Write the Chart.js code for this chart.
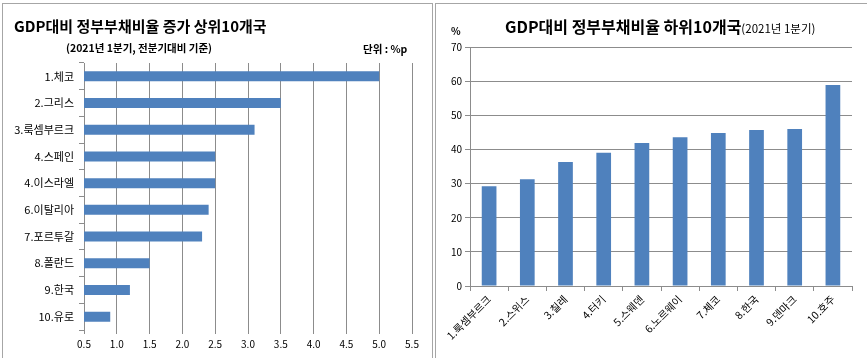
<!DOCTYPE html>
<html>
<head>
<meta charset="utf-8">
<script src="https://cdn.jsdelivr.net/npm/chart.js@4.4.1/dist/chart.umd.min.js"></script>
<style>
    body { margin:0; width:867px; height:358px; background:#fff; position:relative; overflow:hidden;
        font-family:"Noto Sans CJK KR", "Noto Sans", sans-serif; }
    .box { position:absolute; top:3px; height:360px; border:1px solid #a6a6a6; border-bottom:none; background:#fff; }
    #leftBox { left:2px; width:429px; }
    #rightBox { left:435px; width:440px; }
    .txt { position:absolute; white-space:nowrap; color:#000; }
    canvas { position:absolute; left:0; top:0; }
</style>
</head>
<body>
<div class="box" id="leftBox">
    <canvas id="leftChart" width="429" height="352"></canvas>
    <div class="txt" style="left:11px; top:11px; font-size:15px; font-weight:bold;">GDP대비 정부부채비율 증가 상위10개국</div>
    <div class="txt" style="left:63px; top:36px; font-size:10.5px; font-weight:bold;">(2021년 1분기, 전분기대비 기준)</div>
    <div class="txt" style="left:360px; top:37px; font-size:10.5px; font-weight:bold;">단위 : %p</div>
</div>
<div class="box" id="rightBox">
    <canvas id="rightChart" width="432" height="352"></canvas>
    <div class="txt" style="left:69px; top:10px; font-size:16px; font-weight:bold;">GDP대비 정부부채비율 하위10개국<span style="font-size:11.5px; font-weight:normal;">(2021년 1분기)</span></div>
    <div class="txt" style="left:15px; top:19px; font-size:10px; font-weight:bold;">%</div>
</div>

<script>
// left chart data (%p increase)
const topCountries = ['1.체코', '2.그리스', '3.룩셈부르크', '4.스페인', '4.이스라엘', '6.이탈리아', '7.포르투갈', '8.폴란드', '9.한국', '10.유로'];
const topValues = [5.0, 3.5, 3.1, 2.5, 2.5, 2.4, 2.3, 1.5, 1.2, 0.9];
const topTicks = [0.5, 1.0, 1.5, 2.0, 2.5, 3.0, 3.5, 4.0, 4.5, 5.0, 5.5];

// right chart data (debt ratio %)
const lowCountries = ['1.룩셈부르크', '2.스위스', '3.칠레', '4.터키', '5.스웨덴', '6.노르웨이', '7.체코', '8.한국', '9.덴마크', '10.호주'];
const lowValues = [29.2, 31.3, 36.3, 39.0, 41.9, 43.6, 44.8, 45.7, 46.0, 58.9];
const lowTicks = [0, 10, 20, 30, 40, 50, 60, 70];

const barColor = '#4f81bd';
const gridColor = '#8c8c8c';
const fontFamily = '"Noto Sans CJK KR", "Noto Sans", sans-serif';

Chart.defaults.color = '#000';
Chart.defaults.font.family = fontFamily;

const leftChart = new Chart(document.getElementById('leftChart').getContext('2d'), {
    type: 'bar',
    data: {
        labels: topCountries,
        datasets: [{
            data: topValues,
            backgroundColor: barColor,
            barPercentage: 0.75,
            categoryPercentage: 0.5
        }]
    },
    options: {
        indexAxis: 'y',
        responsive: false,
        animation: false,
        layout: { padding: { top: 59, right: 20, left: 0, bottom: 0 } },
        plugins: { legend: { display: false }, tooltip: { enabled: false } },
        scales: {
            x: {
                type: 'linear',
                min: topTicks[0],
                max: topTicks[topTicks.length - 1],
                afterBuildTicks: axis => { axis.ticks = topTicks.map(v => ({ value: v })); },
                afterFit: axis => { axis.height = 26; },
                grid: { color: gridColor, tickLength: 4 },
                border: { display: false },
                ticks: { font: { size: 10 }, padding: 4, callback: v => Number(v).toFixed(1) }
            },
            y: {
                afterFit: axis => { axis.width = 81; },
                grid: { drawOnChartArea: false, color: gridColor, tickLength: 5, offset: true },
                border: { display: true, color: gridColor },
                ticks: { font: { size: 11 }, padding: 5 }
            }
        }
    }
});

const rightChart = new Chart(document.getElementById('rightChart').getContext('2d'), {
    type: 'bar',
    data: {
        labels: lowCountries,
        datasets: [{
            data: lowValues,
            backgroundColor: barColor,
            barPercentage: 0.77,
            categoryPercentage: 0.5
        }]
    },
    options: {
        responsive: false,
        animation: false,
        layout: { padding: { top: 43, right: 16, left: 0, bottom: 0 } },
        plugins: { legend: { display: false }, tooltip: { enabled: false } },
        scales: {
            x: {
                afterFit: axis => { axis.height = 70; },
                grid: { drawOnChartArea: false, color: gridColor, tickLength: 5, offset: true },
                border: { display: true, color: gridColor },
                ticks: { font: { size: 10.5 }, minRotation: 45, maxRotation: 45, padding: 2 }
            },
            y: {
                min: lowTicks[0],
                max: lowTicks[lowTicks.length - 1],
                afterBuildTicks: axis => { axis.ticks = lowTicks.map(v => ({ value: v })); },
                afterFit: axis => { axis.width = 34; },
                grid: { color: gridColor, tickLength: 5 },
                border: { display: true, color: gridColor },
                ticks: { font: { size: 10 }, padding: 3 }
            }
        }
    }
});
</script>
</body>
</html>
